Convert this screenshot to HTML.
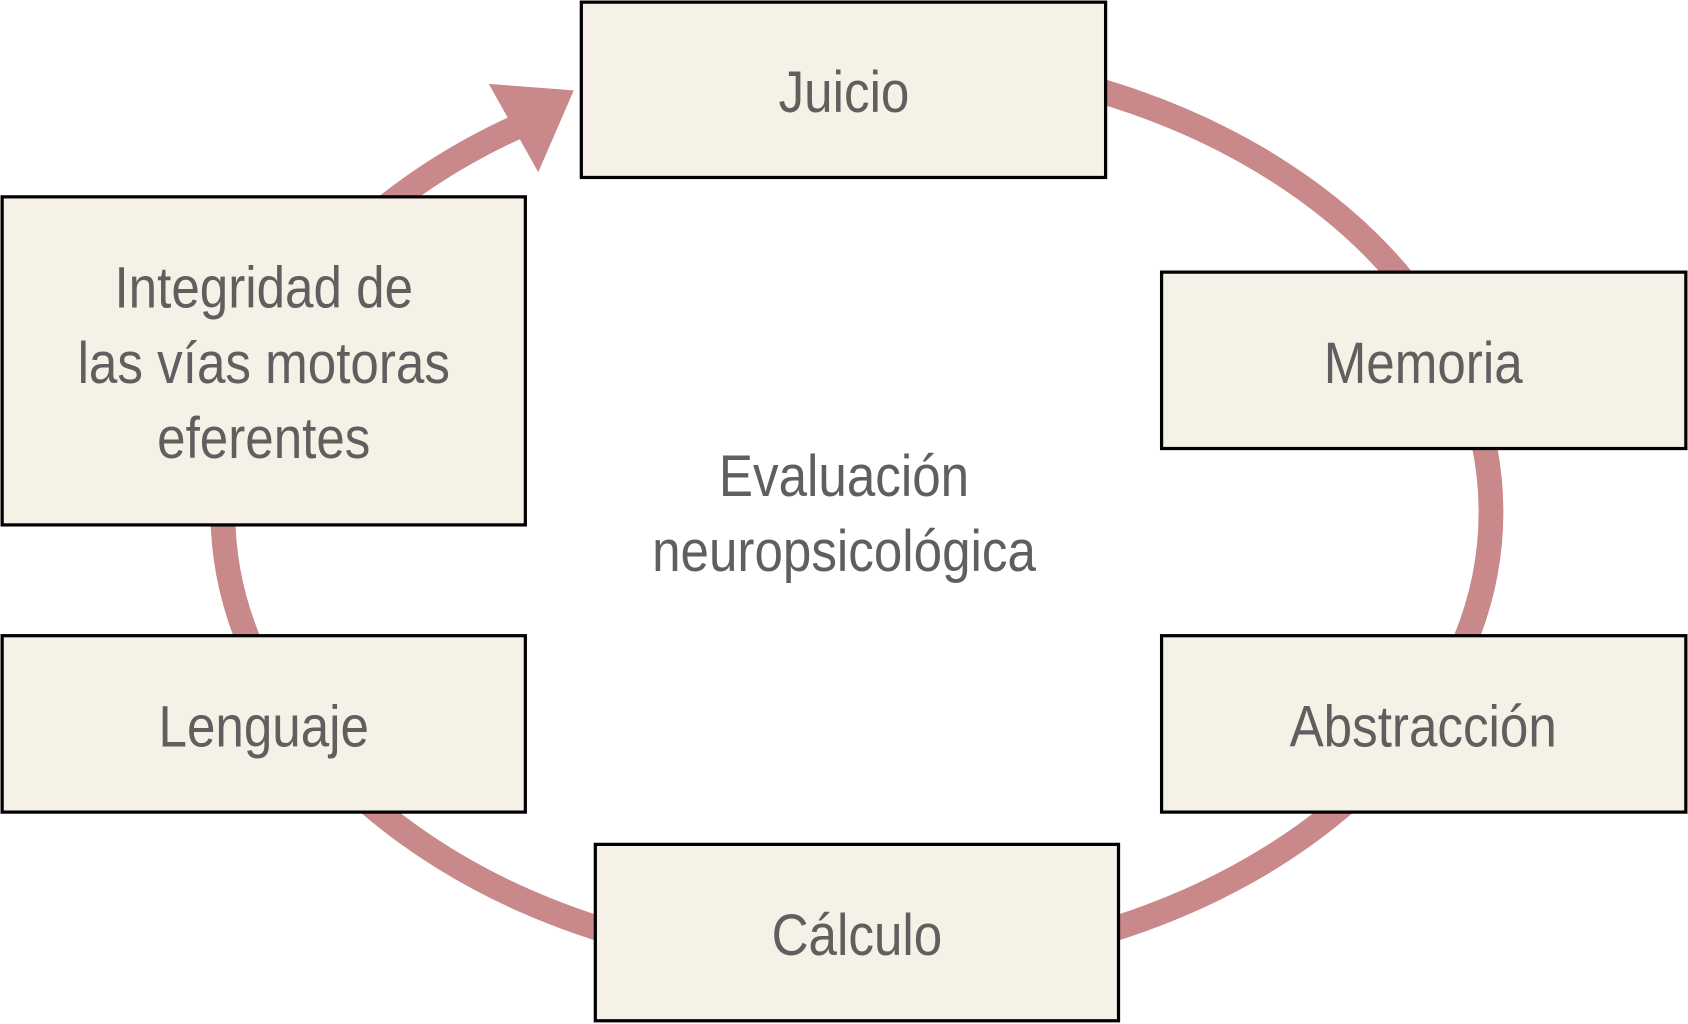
<!DOCTYPE html>
<html><head><meta charset="utf-8"><style>
html,body{margin:0;padding:0;background:#fff;}
svg{display:block;}
text{font-family:"Liberation Sans",sans-serif;fill:#5f5f5f;font-size:54px;text-anchor:middle;}
</style></head><body>
<svg width="1688" height="1024" viewBox="0 0 1568 952" preserveAspectRatio="none" xmlns="http://www.w3.org/2000/svg">
<ellipse cx="796" cy="476" rx="589" ry="424" fill="none" stroke="#c9888a" stroke-width="23"/>
<rect x="514" y="50" width="28" height="80" fill="#fff"/>
<polygon points="454,78 533,84 500,160" fill="#c9888a"/>
<g fill="#f5f1e6" stroke="#000" stroke-width="3">
<rect x="540" y="2" width="487" height="163"/>
<rect x="1079" y="253" width="487" height="164"/>
<rect x="1079" y="591" width="487" height="164"/>
<rect x="553" y="785" width="486" height="164"/>
<rect x="2" y="591" width="486" height="164"/>
<rect x="2" y="183" width="486" height="305"/>
</g>
<text transform="translate(784,104) scale(0.88,1)">Juicio</text>
<text transform="translate(1322,356) scale(0.88,1)">Memoria</text>
<text transform="translate(1322,694) scale(0.88,1)">Abstracción</text>
<text transform="translate(796,888) scale(0.88,1)">Cálculo</text>
<text transform="translate(245,694) scale(0.88,1)">Lenguaje</text>
<text transform="translate(245,286) scale(0.88,1)">Integridad de</text>
<text transform="translate(245,356) scale(0.88,1)">las vías motoras</text>
<text transform="translate(245,426) scale(0.88,1)">eferentes</text>
<text transform="translate(784,461) scale(0.88,1)">Evaluación</text>
<text transform="translate(784,531) scale(0.88,1)">neuropsicológica</text>
</svg>
</body></html>
